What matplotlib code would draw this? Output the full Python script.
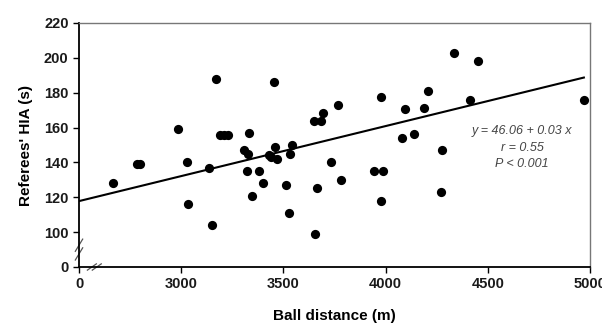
import numpy as np
import matplotlib.pyplot as plt

plt.rcParams['font.family'] = ['Liberation Sans Narrow', 'Liberation Sans', 'DejaVu Sans']

# ball distance (m) and referees' HIA (s)
ball_distance = [2668, 2785, 2800, 2986, 3030, 3032, 3138, 3152, 3172, 3190,
                 3210, 3230, 3333, 3307, 3328, 3320, 3348, 3381, 3400, 3431,
                 3440, 3452, 3460, 3467, 3513, 3529, 3532, 3542, 3650, 3682,
                 3692, 3655, 3663, 3733, 3769, 3780, 3943, 3989, 3977, 3977,
                 4079, 4095, 4137, 4189, 4209, 4271, 4276, 4336, 4411, 4452,
                 4972]
hia = [128, 139, 139, 159, 140, 116, 137, 104, 188, 156,
       156, 156, 157, 147, 145, 135, 121, 135, 128, 144,
       143, 186, 149, 142, 127, 111, 145, 150, 164, 164,
       168.5, 99, 125.5, 140, 173, 130, 135, 135, 177.5, 118,
       154, 170.5, 156.5, 171, 181, 123, 147, 203, 176, 198,
       176]

# regression line as drawn
intercept = 46.06
slope = 0.0287
line_x = [2500, 4970]

x_ticks = [0, 3000, 3500, 4000, 4500, 5000]
y_ticks = [0, 100, 120, 140, 160, 180, 200, 220]

# broken axes: 0..2500 (x) and 0..80 (y) are cut out
X_CUT = 2500
Y_CUT = 80


def tx(v):
    v = np.asarray(v, dtype=float)
    return np.where(v > X_CUT / 2, v - X_CUT, 0)


def ty(v):
    v = np.asarray(v, dtype=float)
    return np.where(v > Y_CUT, v - Y_CUT, 0)


fig = plt.figure(figsize=(6.02, 3.23), dpi=100)
ax = fig.add_axes([79 / 602, 1 - 267 / 323, 511 / 602, 244 / 323])

ax.scatter(tx(ball_distance), ty(hia), s=44, color='black', zorder=3, linewidths=0)

lx = np.array(line_x, dtype=float)
ax.plot(tx(lx), ty(intercept + slope * lx), color='black', lw=1.5, zorder=2)

ax.set_xlim(0, 2500)
ax.set_ylim(0, 140)
ax.set_xticks(tx(x_ticks))
ax.set_xticklabels([str(t) for t in x_ticks])
ax.set_yticks(ty(y_ticks))
ax.set_yticklabels([str(t) for t in y_ticks])
ax.tick_params(axis='both', labelsize=10.5, length=4, width=1, color='black')
for lab in ax.get_xticklabels() + ax.get_yticklabels():
    lab.set_fontweight('bold')
    lab.set_color('#1a1a1a')

for s in ['top', 'right']:
    ax.spines[s].set_color('#777777')
    ax.spines[s].set_linewidth(1.0)
for s in ['left', 'bottom']:
    ax.spines[s].set_color('black')
    ax.spines[s].set_linewidth(1.3)

ax.set_xlabel('Ball distance (m)', fontsize=11, fontweight='bold',
              family=['Liberation Sans', 'DejaVu Sans'], labelpad=12.5)
ax.set_ylabel("Referees' HIA (s)", fontsize=11, fontweight='bold',
              family=['Liberation Sans', 'DejaVu Sans'], labelpad=8)

ax.text(0.867, 0.58, 'y = 46.06 + 0.03 x\nr = 0.55\nP < 0.001',
        transform=ax.transAxes, ha='center', va='top', fontsize=9,
        style='italic', color='#444444', linespacing=1.5)

# break marks
kw = dict(color='#555555', lw=0.9, clip_on=False)
for dy in (-2.5, 2.5):
    ax.plot([-18, 18], [10 + dy - 3.5, 10 + dy + 3.5], **kw)
for dx in (-12, 12):
    ax.plot([75 + dx - 22, 75 + dx + 22], [-1.8, 1.8], **kw)

fig.savefig('out.png', dpi=100)
